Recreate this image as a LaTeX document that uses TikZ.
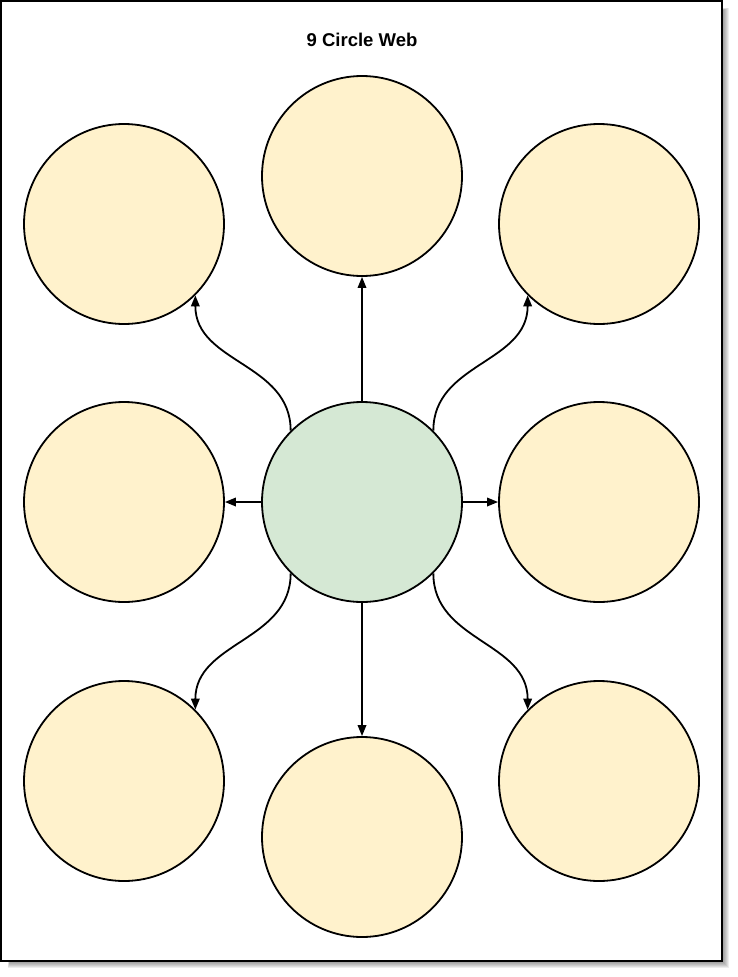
\documentclass[tikz,border=0pt]{standalone}
\usepackage{fontspec}
\setmainfont{Liberation Sans}
\usetikzlibrary{arrows.meta}
\definecolor{peach}{HTML}{FFF2CC}
\definecolor{mint}{HTML}{D5E8D4}
\begin{document}
\begin{tikzpicture}[x=1pt,y=-1pt,
  bubble/.style={circle,draw=black,line width=1.8pt,minimum size=200pt,inner sep=0pt,fill=peach},
  hub/.style={bubble,fill=mint},
  link/.style={line width=1.8pt,-{Triangle[length=11pt,width=8.5pt]}}]
\useasboundingbox (0,0) rectangle (737,977);
% page shadow
\foreach \k in {0,1,...,6}{
  \fill[black,opacity=0.07] (8+\k*0.3,8+\k*0.3) rectangle (729-\k,968-\k);
}
\node[draw=black,line width=1.2pt,fill=white,minimum width=721pt,minimum height=960pt,inner sep=0pt] (page) at (361.5,481) {};
\node[font=\bfseries\fontsize{18.5}{21}\selectfont] (title) at (362,40) {9 Circle Web};
\node[bubble] (tl) at (124,224) {};
\node[bubble] (tc) at (362,176) {};
\node[bubble] (tr) at (599,224) {};
\node[bubble] (ml) at (124,502) {};
\node[hub]    (c)  at (362,502) {};
\node[bubble] (mr) at (599,502) {};
\node[bubble] (bl) at (124,781) {};
\node[bubble] (bc) at (362,837) {};
\node[bubble] (br) at (599,781) {};
\draw[link] (c.north) -- (tc.south);
\draw[link] (c.west) -- (ml.east);
\draw[link] (c.east) -- (mr.west);
\draw[link] (c.south) -- (bc.north);
\draw[link] (c.135) .. controls +(0,-68) and +(0,68) .. (tl.-45);
\draw[link] (c.45) .. controls +(0,-68) and +(0,68) .. (tr.-135);
\draw[link] (c.-135) .. controls +(0,68) and +(0,-68) .. (bl.45);
\draw[link] (c.-45) .. controls +(0,68) and +(0,-68) .. (br.135);
\end{tikzpicture}
\end{document}
